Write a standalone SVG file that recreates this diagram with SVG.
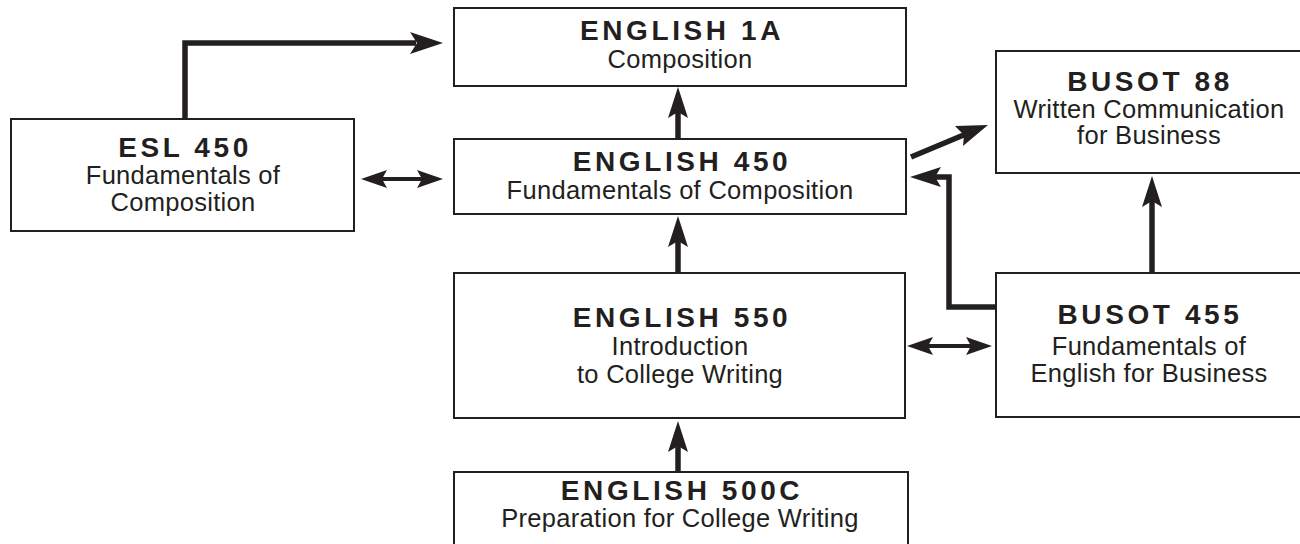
<svg xmlns="http://www.w3.org/2000/svg" width="1300" height="544" viewBox="0 0 1300 544">
<style>
.box{fill:#fff;stroke:#231f20;stroke-width:2}
.t{font-family:"Liberation Sans",Arial,sans-serif;fill:#231f20;text-anchor:middle}
.b{font-weight:bold;font-size:28px;letter-spacing:3.6px}
.r{font-size:25.5px;letter-spacing:0.3px}
.ln{fill:none;stroke:#231f20;stroke-width:5.5}
.ln2{fill:none;stroke:#231f20;stroke-width:4}
.hd{fill:#231f20}
</style>
<rect width="1300" height="544" fill="#fff"/>
<g id="connectors">
<path class="ln" d="M185,120 V43 H416"/>
<path class="hd" d="M443,43 L410,32 L417,43 L410,54 Z"/>
<path class="ln2" d="M380,179 H425"/>
<path class="hd" d="M361,179 L387,170 L382,179 L387,188 Z"/>
<path class="hd" d="M443,179 L417,170 L422,179 L417,188 Z"/>
<path class="ln" d="M678,139 V112"/>
<path class="hd" d="M678,87 L668,118 L678,112 L688,118 Z"/>
<path class="ln" d="M678,273 V240"/>
<path class="hd" d="M678,216 L668,247 L678,241 L688,247 Z"/>
<path class="ln" d="M678,472 V445"/>
<path class="hd" d="M678,421 L668,452 L678,446 L688,452 Z"/>
<path class="ln2" d="M925,346 H975"/>
<path class="hd" d="M907,346 L933,337 L928,346 L933,355 Z"/>
<path class="hd" d="M992,346 L966,337 L971,346 L966,355 Z"/>
<path class="ln" d="M911,157 L966,134"/>
<path class="hd" d="M988,125 L955,126 L964,135 L963,146 Z"/>
<path class="ln" d="M997,307 H949 V177 H935"/>
<path class="hd" d="M910,177 L941,167 L935,177 L941,187 Z"/>
<path class="ln" d="M1152,273 V200"/>
<path class="hd" d="M1152,176 L1142,207 L1152,201 L1162,207 Z"/>
</g>
<g id="english1a">
<rect class="box" x="454" y="8" width="452" height="78"/>
<text class="t b" x="682" y="40">ENGLISH 1A</text>
<text class="t r" x="680" y="68">Composition</text>
</g>
<g id="esl450">
<rect class="box" x="11" y="119" width="343" height="112"/>
<text class="t b" x="185" y="157">ESL 450</text>
<text class="t r" x="183" y="184">Fundamentals of</text>
<text class="t r" x="183" y="211">Composition</text>
</g>
<g id="english450">
<rect class="box" x="454" y="139" width="452" height="75"/>
<text class="t b" x="682" y="171">ENGLISH 450</text>
<text class="t r" x="680" y="199">Fundamentals of Composition</text>
</g>
<g id="busot88">
<rect class="box" x="996" y="51" width="310" height="122"/>
<text class="t b" x="1150" y="91">BUSOT 88</text>
<text class="t r" x="1149" y="118">Written Communication</text>
<text class="t r" x="1149" y="144">for Business</text>
</g>
<g id="english550">
<rect class="box" x="454" y="273" width="451" height="145"/>
<text class="t b" x="682" y="327">ENGLISH 550</text>
<text class="t r" x="680" y="355">Introduction</text>
<text class="t r" x="680" y="383">to College Writing</text>
</g>
<g id="busot455">
<rect class="box" x="996" y="273" width="310" height="144"/>
<text class="t b" x="1150" y="324">BUSOT 455</text>
<text class="t r" x="1149" y="355">Fundamentals of</text>
<text class="t r" x="1149" y="382">English for Business</text>
</g>
<g id="english500c">
<rect class="box" x="454" y="472" width="454" height="90"/>
<text class="t b" x="682" y="500">ENGLISH 500C</text>
<text class="t r" x="680" y="527">Preparation for College Writing</text>
</g>
</svg>
